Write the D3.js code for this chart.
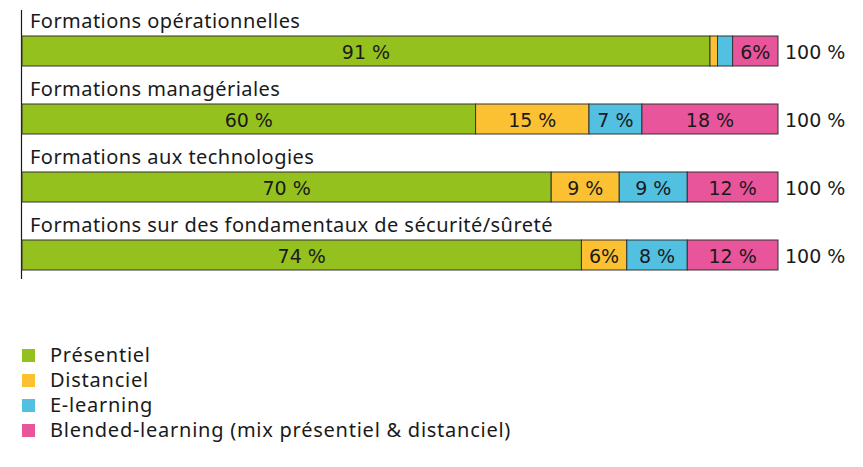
<!DOCTYPE html>
<html>
<head>
<meta charset="utf-8">
<script src="https://cdn.jsdelivr.net/npm/d3@7"></script>
<style>
  html, body { margin: 0; padding: 0; background: #fff; }
  svg { display: block; font-family: "Noto Sans", sans-serif; }
  .num { font-family: "DejaVu Sans", sans-serif; }
</style>
</head>
<body>
<svg id="chart" width="863" height="467"></svg>
<script>
// Training formats by type of training (share of respondents, %)
const categories = [
  "Formations opérationnelles",
  "Formations managériales",
  "Formations aux technologies",
  "Formations sur des fondamentaux de sécurité/sûreté"
];
const seriesNames = [
  "Présentiel",
  "Distanciel",
  "E-learning",
  "Blended-learning (mix présentiel & distanciel)"
];
const presentiel = [91, 60, 70, 74];
const distanciel = [1, 15, 9, 6];
const elearning  = [2, 7, 9, 8];
const blended    = [6, 18, 12, 12];
const totals     = ["100 %", "100 %", "100 %", "100 %"];
const colors = ["#95c11f", "#fcc133", "#52c0e0", "#e8559a"];

const svg = d3.select("#chart");

const keys = ["presentiel", "distanciel", "elearning", "blended"];
const rows = categories.map((c, i) => ({
  category: c,
  presentiel: presentiel[i],
  distanciel: distanciel[i],
  elearning: elearning[i],
  blended: blended[i],
  total: totals[i]
}));

const stack = d3.stack().keys(keys)(rows);

const x = d3.scaleLinear().domain([0, 100]).range([22, 778]);
const y = d3.scaleBand().domain(categories).range([10, 282]).paddingInner(0).paddingOuter(0);
const barH = 30;
const barOffset = 26; // bar sits below its category title

const color = d3.scaleOrdinal().domain(keys).range(colors);

// vertical axis line
svg.append("line")
  .attr("x1", 21.5).attr("x2", 21.5)
  .attr("y1", y.range()[0]).attr("y2", 279)
  .attr("stroke", "#1a1a1a").attr("stroke-width", 1.2);

// category titles
svg.append("g").selectAll("text")
  .data(categories)
  .join("text")
  .attr("x", 30)
  .attr("y", d => y(d) + 18)
  .attr("font-size", 20)
  .attr("letter-spacing", 0.45)
  .attr("fill", "#1a1a1a")
  .text(d => d);

// stacked segments
const layer = svg.append("g").selectAll("g")
  .data(stack)
  .join("g")
  .attr("fill", d => color(d.key));

layer.selectAll("rect")
  .data(d => d.map(s => ({ s, key: d.key })))
  .join("rect")
  .attr("x", d => x(d.s[0]))
  .attr("y", d => y(d.s.data.category) + barOffset)
  .attr("width", d => x(d.s[1]) - x(d.s[0]))
  .attr("height", barH)
  .attr("stroke", "#333")
  .attr("stroke-width", 1);

// value labels inside segments
layer.selectAll("text")
  .data(d => d.map(s => ({ s, key: d.key })).filter(d => d.s[1] - d.s[0] >= 5))
  .join("text")
  .attr("class", "num")
  .attr("x", d => (x(d.s[0]) + x(d.s[1])) / 2)
  .attr("y", d => y(d.s.data.category) + barOffset + barH / 2 + 7.5)
  .attr("text-anchor", "middle")
  .attr("font-size", 19)
  .attr("fill", "#1a1a1a")
  .text(d => {
    const v = d.s[1] - d.s[0];
    return v <= 6 ? v + "%" : v + " %";
  });

// totals
svg.append("g").selectAll("text")
  .data(rows)
  .join("text")
  .attr("class", "num")
  .attr("x", x(100) + 7)
  .attr("y", d => y(d.category) + barOffset + barH / 2 + 7.5)
  .attr("font-size", 19)
  .attr("fill", "#1a1a1a")
  .text(d => d.total);

// legend
const legend = svg.append("g").attr("transform", "translate(22,349)");
const item = legend.selectAll("g")
  .data(seriesNames)
  .join("g")
  .attr("transform", (d, i) => `translate(0,${i * 25})`);
item.append("rect")
  .attr("width", 13).attr("height", 13)
  .attr("fill", (d, i) => colors[i]);
item.append("text")
  .attr("x", 28).attr("y", 13)
  .attr("font-size", 20)
  .attr("letter-spacing", 0.75)
  .attr("fill", "#1a1a1a")
  .text(d => d);
</script>
</body>
</html>
